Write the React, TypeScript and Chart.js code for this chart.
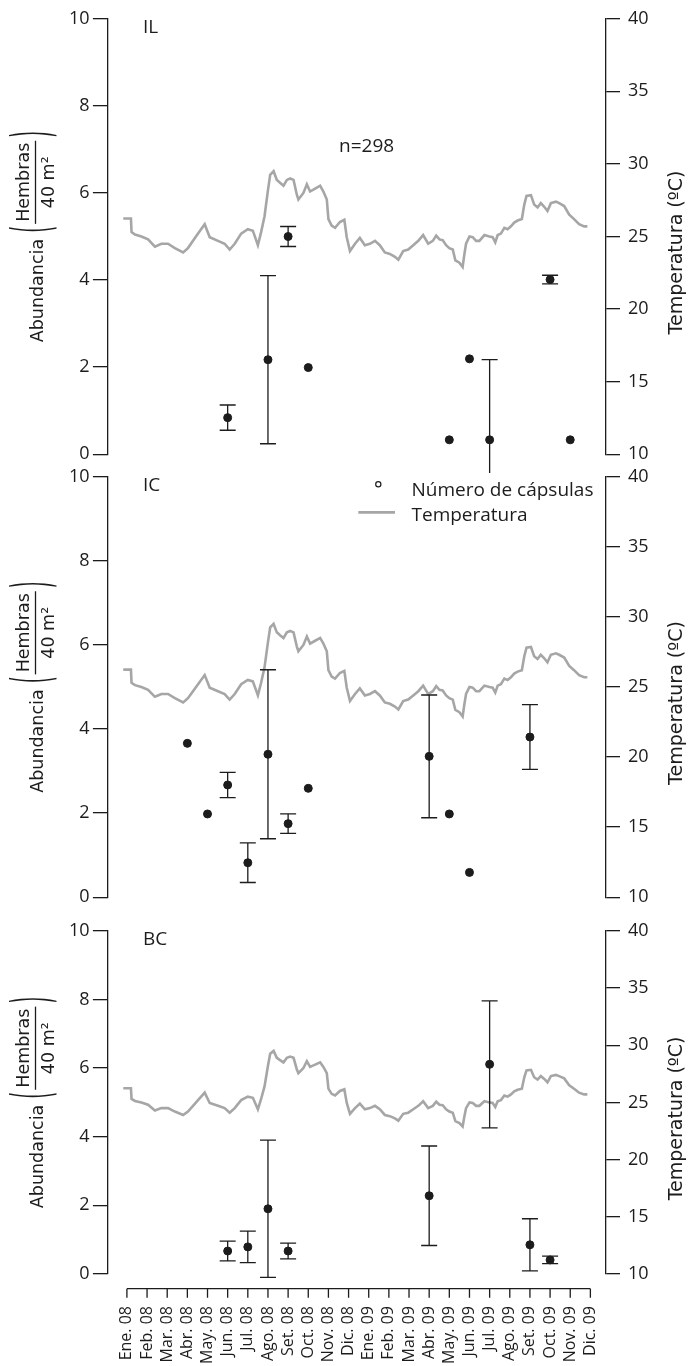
import React, { useEffect, useRef } from 'react';
import { Chart, registerables } from 'chart.js';

Chart.register(...registerables);

// ---------- data ----------
const monthLabels = [
  'Ene. 08', 'Feb. 08', 'Mar. 08', 'Abr. 08', 'May. 08', 'Jun. 08', 'Jul. 08', 'Ago. 08',
  'Set. 08', 'Oct. 08', 'Nov. 08', 'Dic. 08', 'Ene. 09', 'Feb. 09', 'Mar. 09', 'Abr. 09',
  'May. 09', 'Jun. 09', 'Jul. 09', 'Ago. 09', 'Set. 09', 'Oct. 09', 'Nov. 09', 'Dic. 09',
];

// temperature trace (x in months from Ene. 08, value in ºC)
const tempMonth = [
  -0.18, 0.2, 0.23, 0.4, 0.72, 1.05, 1.39, 1.71, 2.04, 2.38, 2.79, 3.03, 3.28, 3.53, 3.86, 4.11,
  4.52, 4.85, 5.1, 5.35, 5.67, 6.0, 6.25, 6.5, 6.66, 6.83, 7.0, 7.11, 7.28, 7.44, 7.6, 7.77,
  7.94, 8.1, 8.27, 8.43, 8.51, 8.76, 8.93, 9.09, 9.34, 9.59, 9.75, 9.92, 10.0, 10.16, 10.33,
  10.57, 10.79, 10.91, 11.07, 11.32, 11.56, 11.81, 12.06, 12.31, 12.55, 12.8, 13.05, 13.3,
  13.47, 13.71, 13.96, 14.21, 14.46, 14.7, 14.95, 15.18, 15.35, 15.51, 15.67, 15.84, 16.0,
  16.17, 16.3, 16.5, 16.66, 16.75, 16.83, 17.0, 17.16, 17.33, 17.49, 17.74, 17.99, 18.15,
  18.28, 18.4, 18.56, 18.73, 18.89, 19.06, 19.22, 19.39, 19.6, 19.72, 19.83, 20.05, 20.21,
  20.38, 20.54, 20.71, 20.87, 21.04, 21.29, 21.45, 21.7, 21.95, 22.19, 22.44, 22.69, 22.85,
];
const tempC = [
  26.24, 26.24, 25.3, 25.13, 25.0, 24.8, 24.3, 24.5, 24.5, 24.2, 23.9, 24.2, 24.7, 25.2, 25.85, 24.95,
  24.7, 24.5, 24.1, 24.5, 25.2, 25.5, 25.4, 24.4, 25.3, 26.4, 28.2, 29.25, 29.5, 28.9, 28.7, 28.5,
  28.9, 29.0, 28.9, 27.9, 27.55, 28.0, 28.6, 28.1, 28.3, 28.5, 28.1, 27.55, 26.2, 25.75, 25.6,
  26.0, 26.15, 24.95, 24.0, 24.5, 24.9, 24.4, 24.5, 24.7, 24.4, 23.9, 23.8, 23.6,
  23.4, 24.0, 24.1, 24.4, 24.7, 25.1, 24.5, 24.7, 25.06, 24.8, 24.75, 24.4, 24.2,
  24.1, 23.36, 23.2, 22.9, 23.8, 24.5, 25.0, 24.95, 24.7, 24.7, 25.1, 25.0, 24.95,
  24.6, 25.1, 25.2, 25.6, 25.5, 25.7, 25.96, 26.1, 26.2, 27.2, 27.8, 27.85, 27.2,
  27.0, 27.3, 27.05, 26.76, 27.3, 27.4, 27.3, 27.1, 26.5, 26.2, 25.85, 25.7, 25.7,
];

// IL
const ilMonth = [5, 7, 8, 9, 16, 17, 18, 21, 22];
const ilMean = [0.84, 2.17, 5.0, 1.99, 0.33, 2.19, 0.33, 4.01, 0.33];
const ilErr = [0.29, 1.93, 0.23, 0, 0, 0, 1.84, 0.1, 0];

// IC
const icMonth = [3, 4, 5, 6, 7, 8, 9, 15, 16, 17, 20];
const icMean = [3.66, 1.98, 2.67, 0.82, 3.4, 1.75, 2.59, 3.35, 1.98, 0.59, 3.81];
const icErr = [0, 0, 0.3, 0.47, 2.01, 0.23, 0, 1.46, 0, 0, 0.77];

// BC
const bcMonth = [5, 6, 7, 8, 15, 18, 20, 21];
const bcMean = [0.67, 0.79, 1.9, 0.67, 2.28, 6.11, 0.85, 0.41];
const bcErr = [0.29, 0.46, 2.0, 0.23, 1.45, 1.85, 0.76, 0.11];

const abundTicks = [0, 2, 4, 6, 8, 10];
const tempTicks = [10, 15, 20, 25, 30, 35, 40];

// ---------- style / layout ----------
const INK = '#1c1c1c';
const GREY = '#a6a6a6';
const NUM_FONT = 'Open Sans';
const TITLE_FONT = 'DejaVu Sans';
const X_MIN = -0.963;
const X_MAX = 23.76;
const LEFT_W = 107.5;
const RIGHT_W = 83.3;
const CAP = 8;

type Panel = {
  label: string;
  months: number[];
  mean: number[];
  err: number[];
  top: number;
  height: number;
  padTop: number;
  padBottom: number;
  showX: boolean;
  legend: boolean;
  note?: string;
};

const panels: Panel[] = [
  { label: 'IL', months: ilMonth, mean: ilMean, err: ilErr, top: 0, height: 473, padTop: 15, padBottom: 16.3, showX: false, legend: false, note: 'n=298' },
  { label: 'IC', months: icMonth, mean: icMean, err: icErr, top: 458, height: 458, padTop: 14.7, padBottom: 15, showX: false, legend: true },
  { label: 'BC', months: bcMonth, mean: bcMean, err: bcErr, top: 912, height: 454, padTop: 16.3, padBottom: 0, showX: true, legend: false },
];

function drawParen(ctx: CanvasRenderingContext2D, ch: string, u: number, v: number, fs: number, k: number) {
  ctx.save();
  ctx.translate(u, v);
  ctx.scale(1, k);
  ctx.textAlign = 'center';
  ctx.textBaseline = 'alphabetic';
  ctx.font = `${fs}px "${TITLE_FONT}"`;
  ctx.fillText(ch, 0, 0.31 * fs);
  ctx.restore();
}

function drawLeftTitle(ctx: CanvasRenderingContext2D, cy: number) {
  const fs = 17.5;
  ctx.save();
  ctx.translate(0, cy);
  ctx.rotate(-Math.PI / 2);
  ctx.fillStyle = INK;
  ctx.strokeStyle = INK;
  ctx.font = `${fs}px "${TITLE_FONT}"`;
  ctx.textBaseline = 'alphabetic';
  ctx.textAlign = 'left';
  const wA = ctx.measureText('Abundancia').width;
  const wH = ctx.measureText('Hembras').width;
  const w40 = ctx.measureText('40 m²').width;
  const fw = Math.max(wH, w40) + 4;
  const parenW = 7, gap1 = 6, gap2 = 2, gap3 = 3;
  const total = wA + gap1 + parenW + gap2 + fw + gap3 + parenW;
  let u = -total / 2;
  ctx.fillText('Abundancia', u, 43.3);
  u += wA + gap1;
  drawParen(ctx, '(', u + parenW / 2, 33.5, fs, 3.0);
  u += parenW + gap2;
  ctx.lineWidth = 1.3;
  ctx.beginPath();
  ctx.moveTo(u, 35.5);
  ctx.lineTo(u + fw, 35.5);
  ctx.stroke();
  ctx.textAlign = 'center';
  ctx.fillText('Hembras', u + fw / 2, 28.5);
  ctx.fillText('40 m²', u + fw / 2, 54);
  u += fw + gap3;
  drawParen(ctx, ')', u + parenW / 2, 33.5, fs, 3.0);
  ctx.restore();
}

function drawRightTitle(ctx: CanvasRenderingContext2D, cy: number) {
  ctx.save();
  ctx.translate(0, cy + 16);
  ctx.rotate(-Math.PI / 2);
  ctx.fillStyle = INK;
  ctx.font = `19px "${TITLE_FONT}"`;
  ctx.textAlign = 'center';
  ctx.textBaseline = 'alphabetic';
  ctx.fillText('Temperatura (ºC)', 0, 682);
  ctx.restore();
}

function makeDecor(p: Panel) {
  return {
    id: 'decor' + p.label,
    afterDatasetsDraw(chart: any) {
      const { ctx, chartArea } = chart;
      const xs = chart.scales.x;
      const ys = chart.scales.y;
      ctx.save();
      // error bars
      ctx.strokeStyle = INK;
      ctx.lineWidth = 1.3;
      p.months.forEach((m, i) => {
        const e = p.err[i];
        if (!e) return;
        const x = xs.getPixelForValue(m);
        const yT = ys.getPixelForValue(p.mean[i] + e);
        const yB = ys.getPixelForValue(p.mean[i] - e);
        ctx.beginPath();
        ctx.moveTo(x, yT);
        ctx.lineTo(x, yB);
        ctx.moveTo(x - CAP, yT);
        ctx.lineTo(x + CAP, yT);
        ctx.moveTo(x - CAP, yB);
        ctx.lineTo(x + CAP, yB);
        ctx.stroke();
      });
      // panel label
      ctx.fillStyle = INK;
      ctx.font = `19px "${NUM_FONT}"`;
      ctx.textAlign = 'left';
      ctx.textBaseline = 'alphabetic';
      ctx.fillText(p.label, chartArea.left + 35.5, chartArea.top + 14);
      if (p.note) ctx.fillText(p.note, chartArea.left + 231.5, chartArea.top + 133);
      // legend
      if (p.legend) {
        const lx = chartArea.left + 304;
        ctx.lineWidth = 1.2;
        ctx.beginPath();
        ctx.arc(chartArea.left + 270.8, chartArea.top + 7.5, 2.6, 0, Math.PI * 2);
        ctx.stroke();
        ctx.fillText('Número de cápsulas', lx, chartArea.top + 18.8);
        ctx.strokeStyle = GREY;
        ctx.lineWidth = 2.6;
        ctx.beginPath();
        ctx.moveTo(chartArea.left + 250.8, chartArea.top + 35.6);
        ctx.lineTo(chartArea.left + 287.5, chartArea.top + 35.6);
        ctx.stroke();
        ctx.fillText('Temperatura', lx, chartArea.top + 44);
      }
      // x axis (detached, bottom panel only)
      if (p.showX) {
        const yA = chartArea.bottom + 14.7;
        ctx.strokeStyle = INK;
        ctx.lineWidth = 1.3;
        ctx.beginPath();
        ctx.moveTo(xs.getPixelForValue(0), yA);
        ctx.lineTo(xs.getPixelForValue(monthLabels.length - 1), yA);
        monthLabels.forEach((_, i) => {
          const x = xs.getPixelForValue(i);
          ctx.moveTo(x, yA);
          ctx.lineTo(x, yA + 9);
        });
        ctx.stroke();
      }
      // axis titles
      const cy = (chartArea.top + chartArea.bottom) / 2;
      drawLeftTitle(ctx, cy);
      drawRightTitle(ctx, cy);
      ctx.restore();
    },
  };
}

function PanelChart({ p }: { p: Panel }) {
  const ref = useRef<HTMLCanvasElement | null>(null);
  useEffect(() => {
    if (!ref.current) return;
    const chart = new Chart(ref.current, {
      type: 'scatter',
      data: {
        datasets: [
          {
            type: 'scatter',
            data: p.months.map((m, i) => ({ x: m, y: p.mean[i] })),
            backgroundColor: INK,
            borderColor: INK,
            pointRadius: 4,
            pointHoverRadius: 4,
            xAxisID: 'x',
            yAxisID: 'y',
          },
          {
            type: 'line',
            data: tempMonth.map((m, i) => ({ x: m, y: tempC[i] })),
            borderColor: GREY,
            borderWidth: 2.6,
            pointRadius: 0,
            tension: 0,
            fill: false,
            xAxisID: 'x',
            yAxisID: 'yT',
          } as any,
        ],
      },
      options: {
        animation: false,
        responsive: false,
        devicePixelRatio: 1,
        events: [],
        layout: { padding: { top: p.padTop, bottom: p.padBottom, left: 0, right: 0 } },
        plugins: { legend: { display: false }, tooltip: { enabled: false } },
        scales: {
          x: {
            type: 'linear',
            display: p.showX,
            min: X_MIN,
            max: X_MAX,
            afterBuildTicks: (s: any) => {
              s.ticks = monthLabels.map((_, i) => ({ value: i }));
            },
            afterFit: (s: any) => {
              if (p.showX) s.height = 92;
            },
            grid: { display: false, drawTicks: false },
            border: { display: false },
            ticks: {
              autoSkip: false,
              minRotation: 90,
              maxRotation: 90,
              padding: 32,
              color: INK,
              font: { family: NUM_FONT, size: 16 },
              callback: (v: any) => monthLabels[v] ?? '',
            },
          },
          y: {
            type: 'linear',
            position: 'left',
            min: 0,
            max: 10,
            afterBuildTicks: (s: any) => {
              s.ticks = abundTicks.map((v) => ({ value: v }));
            },
            afterFit: (s: any) => {
              s.width = LEFT_W;
            },
            grid: { drawOnChartArea: false, tickLength: 14.6, color: INK, lineWidth: 1.3 },
            border: { color: INK, width: 1.3 },
            ticks: { color: INK, padding: 3.4, font: { family: NUM_FONT, size: 18 } },
          },
          yT: {
            type: 'linear',
            position: 'right',
            min: 10,
            max: 40,
            afterBuildTicks: (s: any) => {
              s.ticks = tempTicks.map((v) => ({ value: v }));
            },
            afterFit: (s: any) => {
              s.width = RIGHT_W;
            },
            grid: { drawOnChartArea: false, tickLength: 14.3, color: INK, lineWidth: 1.3 },
            border: { color: INK, width: 1.3 },
            ticks: { color: INK, padding: 8, font: { family: NUM_FONT, size: 18 } },
          },
        },
      },
      plugins: [makeDecor(p)],
    } as any);
    return () => chart.destroy();
  }, [p]);
  return (
    <canvas
      ref={ref}
      width={689}
      height={p.height}
      style={{ position: 'absolute', left: 0, top: p.top, width: 689, height: p.height }}
    />
  );
}

export default function App() {
  return (
    <div style={{ position: 'absolute', left: 0, top: 0, width: 689, height: 1366, background: '#fff', overflow: 'hidden' }}>
      {panels.map((p) => (
        <PanelChart key={p.label} p={p} />
      ))}
    </div>
  );
}
